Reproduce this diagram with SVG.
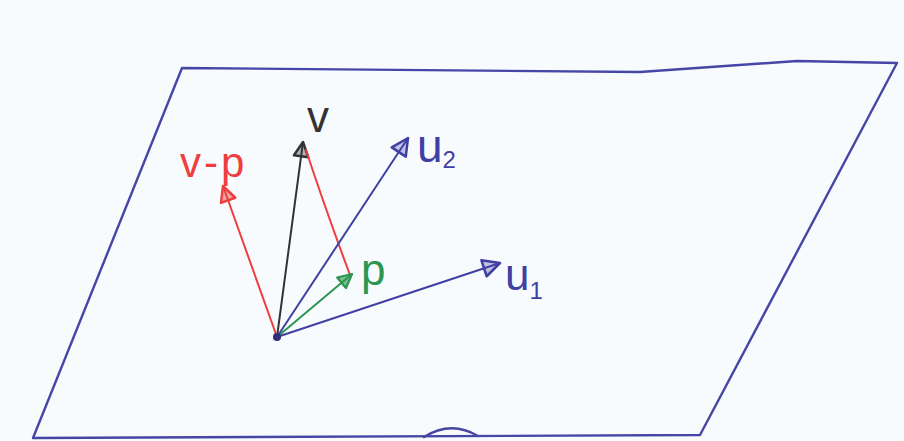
<svg xmlns="http://www.w3.org/2000/svg" width="904" height="441" viewBox="0 0 904 441">
  <style>
    .plane { fill: none; stroke: #4646a6; stroke-width: 2.4; stroke-linejoin: round; stroke-linecap: round; }
    .vec { fill: none; stroke-width: 2; stroke-linecap: round; }
    .blue { stroke: #4040a4; }
    .red { stroke: #ee3e3e; }
    .green { stroke: #2c9650; }
    .black { stroke: #333333; }
    .lbl { font-family: "Liberation Sans", Arial, sans-serif; }
  </style>
  <defs>
    <marker id="ah-blue" viewBox="0 0 20 20" refX="18" refY="10" markerWidth="21" markerHeight="21" markerUnits="userSpaceOnUse" orient="auto">
      <path d="M2,2 L18,10 L2,18 Z" fill="#4040a4" fill-opacity="0.3" stroke="#4040a4" stroke-width="2.4" stroke-linejoin="round"/>
    </marker>
    <marker id="ah-red" viewBox="0 0 20 20" refX="18" refY="10" markerWidth="19" markerHeight="19" markerUnits="userSpaceOnUse" orient="auto">
      <path d="M2,2 L18,10 L2,18 Z" fill="#ee3e3e" fill-opacity="0.45" stroke="#ee3e3e" stroke-width="2.6" stroke-linejoin="round"/>
    </marker>
    <marker id="ah-green" viewBox="0 0 20 20" refX="18" refY="10" markerWidth="17" markerHeight="17" markerUnits="userSpaceOnUse" orient="auto">
      <path d="M2,2 L18,10 L2,18 Z" fill="#2c9650" fill-opacity="0.6" stroke="#2c9650" stroke-width="2.6" stroke-linejoin="round"/>
    </marker>
    <marker id="ah-black" viewBox="0 0 20 20" refX="18" refY="10" markerWidth="18" markerHeight="18" markerUnits="userSpaceOnUse" orient="auto">
      <path d="M2,2 L18,10 L2,18 Z" fill="#333333" fill-opacity="0.35" stroke="#333333" stroke-width="2.8" stroke-linejoin="round"/>
    </marker>
  </defs>
  <rect width="904" height="441" fill="#f8fbfd"/>

  <g id="plane">
    <path class="plane" d="M182,68 L640,72 L797,61 L897,63 L700,435 L33,438 Z"/>
    <path class="plane" d="M424,437 Q451,420 478,436"/>
  </g>

  <g id="connectors">
    <line class="vec red" x1="277" y1="337" x2="223" y2="186" marker-end="url(#ah-red)"/>
    <line class="vec black" x1="277" y1="337" x2="303" y2="142" marker-end="url(#ah-black)"/>
    <path class="vec red" d="M306,150 Q324,205 350,275"/>
    <line class="vec blue" x1="277" y1="337" x2="408" y2="138" marker-end="url(#ah-blue)"/>
    <line class="vec green" x1="277" y1="337" x2="352" y2="274" marker-end="url(#ah-green)"/>
    <line class="vec blue" x1="277" y1="337" x2="500" y2="263" marker-end="url(#ah-blue)"/>
  </g>

  <g id="origin">
    <circle cx="277" cy="337" r="4" fill="#2e2e7a"/>
  </g>

  <g id="label-v">
    <text class="lbl" x="307" y="132" font-size="44" fill="#333333">v</text>
  </g>
  <g id="label-v-p">
    <text class="lbl" x="180" y="177" font-size="42" fill="#ee3e3e" letter-spacing="3">v-p</text>
  </g>
  <g id="label-u2">
    <text class="lbl" x="417" y="162" font-size="46" fill="#4040a4">u<tspan font-size="24" dy="6">2</tspan></text>
  </g>
  <g id="label-p">
    <text class="lbl" x="361" y="285" font-size="44" fill="#2c9650">p</text>
  </g>
  <g id="label-u1">
    <text class="lbl" x="505" y="290" font-size="44" fill="#4040a4">u<tspan font-size="24" dy="9">1</tspan></text>
  </g>
</svg>
